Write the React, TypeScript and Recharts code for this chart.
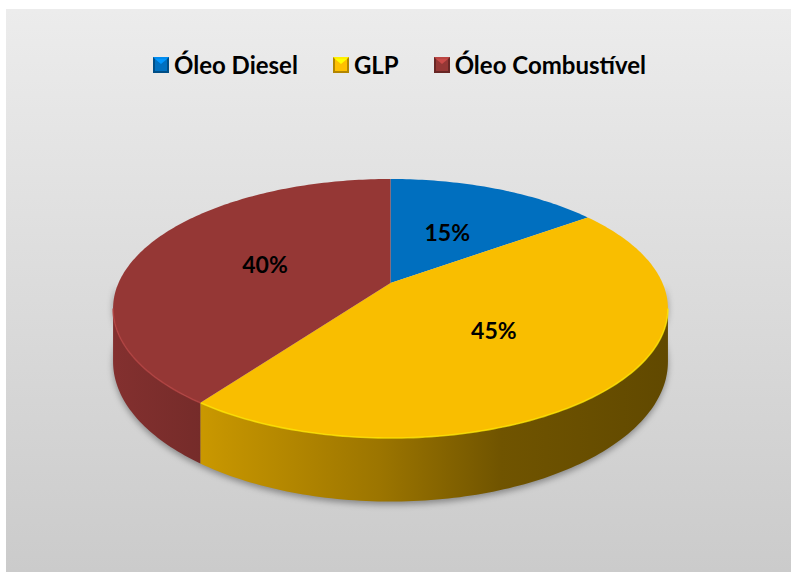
import React from 'react';
import { PieChart, Pie, Cell, Legend } from 'recharts';

const CATEGORIES = ['Óleo Diesel', 'GLP', 'Óleo Combustível'];
const SHARES = [15, 45, 40];
const TOP_COLORS = ['#006FBF', '#F9BE00', '#953735'];
const BASE_COLORS = ['#0070C0', '#FFC000', '#953735'];

const data = CATEGORIES.map((name, i) => ({ name, value: SHARES[i] }));

const W = 791;
const H = 577;
const PIE_CX = 390.5;
const PIE_CY = 283;
const PIE_R = 272;

// perspective parameters for the tilted disc
const K = 0.197;
const BR = 0.4577;
const DR = 0.1875;
const FRONT_START = (Math.acos(-K) * 180) / Math.PI;
const FRONT_END = 360 - FRONT_START;

function proj(cx: number, cy: number, R: number, phiDeg: number, r = 1, drop = 0): [number, number] {
  const p = (phiDeg * Math.PI) / 180;
  const u = r * Math.sin(p);
  const v = r * Math.cos(p);
  const w = 1 + K * v;
  return [cx + (R * u) / w, cy + (-R * BR * v + drop * R * DR) / w];
}

function arcPoints(cx: number, cy: number, R: number, a0: number, a1: number, drop = 0) {
  const n = Math.max(2, Math.ceil(Math.abs(a1 - a0)));
  const pts: [number, number][] = [];
  for (let i = 0; i <= n; i++) {
    const phi = a0 + ((a1 - a0) * i) / n;
    pts.push(proj(cx, cy, R, phi, 1, drop));
  }
  return pts;
}

function shade(hex: string, f: number) {
  const n = parseInt(hex.slice(1), 16);
  const c = [(n >> 16) & 255, (n >> 8) & 255, n & 255].map((x) => Math.max(0, Math.min(255, Math.round(x * f))));
  return '#' + c.map((x) => x.toString(16).padStart(2, '0')).join('');
}

const ptsStr = (pts: [number, number][]) => pts.map((p) => `${p[0].toFixed(2)},${p[1].toFixed(2)}`).join(' L');

const SliceShape = (props: any) => {
  const { cx, cy, outerRadius, startAngle, endAngle, name } = props;
  const R = outerRadius;
  const i = Math.max(0, CATEGORIES.indexOf(name));
  const a0 = 90 - startAngle;
  const a1 = 90 - endAngle;
  const lo = Math.min(a0, a1);
  const hi = Math.max(a0, a1);
  const top = arcPoints(cx, cy, R, lo, hi);
  const topD = `M${cx},${cy} L${ptsStr(top)} Z`;
  const s = Math.max(lo, FRONT_START);
  const e = Math.min(hi, FRONT_END);
  let wallD: string | null = null;
  let rimD: string | null = null;
  if (e > s) {
    const t = arcPoints(cx, cy, R, s, e);
    const b = arcPoints(cx, cy, R, e, s, 1);
    wallD = `M${ptsStr(t)} L${ptsStr(b)} Z`;
    rimD = `M${ptsStr(t)}`;
  }
  let shadowD: string | null = null;
  if (i === 0) {
    const sb = arcPoints(cx, cy, R, FRONT_START - 10, FRONT_END + 10, 1).map(
      (p) => [p[0], p[1] + 3] as [number, number]
    );
    const st = arcPoints(cx, cy, R, FRONT_END + 10, FRONT_START - 10, 0);
    shadowD = `M${ptsStr(sb)} L${ptsStr(st)} Z`;
  }
  return (
    <g>
      {shadowD && <path d={shadowD} fill="rgba(0,0,0,0.35)" filter="url(#pieShadow)" />}
      {wallD && <path d={wallD} fill={`url(#wall${i})`} />}
      <path d={topD} fill={TOP_COLORS[i]} />
      {rimD && (
        <path d={rimD} fill="none" stroke={shade(TOP_COLORS[i], 1.22)} strokeWidth={1.6} strokeOpacity={0.75} />
      )}
    </g>
  );
};

const renderLabel = (props: any) => {
  const { cx, cy, outerRadius, midAngle, percent } = props;
  const [x, y] = proj(cx, cy, outerRadius, 90 - midAngle, 0.5);
  return (
    <text
      x={x}
      y={y}
      textAnchor="middle"
      dominantBaseline="central"
      fontFamily="Lato, sans-serif"
      fontWeight={700}
      fontSize={23}
      fill="#000"
    >
      {`${Math.round(percent * 100)}%`}
    </text>
  );
};

const LegendIcon = ({ color }: { color: string }) => (
  <svg width={16} height={16} style={{ display: 'block' }}>
    <rect x={0} y={0} width={16} height={16} fill={shade(color, 0.7)} />
    <polygon points="0,0 16,0 8,8" fill={shade(color, 1.25)} />
    <rect x={2} y={2} width={12} height={12} fill={color} />
    <polygon points="2,2 14,2 8,7" fill={shade(color, 1.35)} />
  </svg>
);

const LegendContent = () => (
  <div
    style={{
      display: 'flex',
      justifyContent: 'center',
      alignItems: 'center',
      fontFamily: 'Lato, sans-serif',
      fontWeight: 700,
      fontSize: 24,
      color: '#000',
      paddingLeft: 8,
    }}
  >
    {CATEGORIES.map((c, i) => (
      <div key={c} style={{ display: 'flex', alignItems: 'center', marginLeft: i ? 35 : 0 }}>
        <LegendIcon color={BASE_COLORS[i]} />
        <span style={{ marginLeft: 5 }}>{c}</span>
      </div>
    ))}
  </div>
);

const GRAD_STOPS: [number, number][] = [
  [0, 0.88],
  [0.175, 0.78],
  [0.48, 0.61],
  [0.7, 0.44],
  [1, 0.38],
];

export default function App() {
  return (
    <div style={{ position: 'absolute', left: 0, top: 0, width: W, height: H, background: '#fff' }}>
      <div
        style={{
          position: 'absolute',
          left: 6,
          top: 9,
          width: W - 6,
          height: 563,
          background: 'linear-gradient(to bottom, #ececec 0%, #cbcbcb 100%)',
        }}
      />
      <div style={{ position: 'absolute', left: 0, top: 0 }}>
        <PieChart width={W} height={H} margin={{ top: 0, right: 0, bottom: 0, left: 0 }}>
          <defs>
            <filter id="pieShadow" x="-10%" y="-20%" width="120%" height="140%">
              <feGaussianBlur stdDeviation="3" />
            </filter>
            {BASE_COLORS.map((c, i) => (
              <linearGradient
                key={i}
                id={`wall${i}`}
                gradientUnits="userSpaceOnUse"
                x1={PIE_CX - PIE_R * 1.02}
                x2={PIE_CX + PIE_R * 1.02}
                y1={0}
                y2={0}
              >
                {GRAD_STOPS.map(([o, f]) => (
                  <stop key={o} offset={o} stopColor={shade(c, f)} />
                ))}
              </linearGradient>
            ))}
          </defs>
          <Legend
            verticalAlign="middle"
            align="center"
            layout="horizontal"
            content={<LegendContent />}
            wrapperStyle={{ top: 50, left: 0, width: W }}
          />
          <Pie
            data={data}
            dataKey="value"
            nameKey="name"
            cx={PIE_CX}
            cy={PIE_CY}
            outerRadius={PIE_R}
            startAngle={90}
            endAngle={-270}
            stroke="none"
            isAnimationActive={false}
            shape={SliceShape}
            label={renderLabel}
            labelLine={false}
          >
            {data.map((d, i) => (
              <Cell key={d.name} fill={TOP_COLORS[i]} />
            ))}
          </Pie>
        </PieChart>
      </div>
    </div>
  );
}
